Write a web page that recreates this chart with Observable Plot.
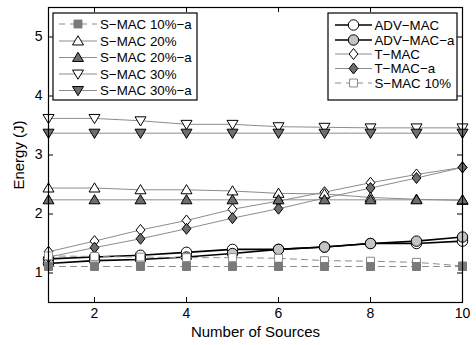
<!DOCTYPE html>
<html><head><meta charset="utf-8">
<script src="https://cdn.jsdelivr.net/npm/d3@7"></script>
<script src="https://cdn.jsdelivr.net/npm/@observablehq/plot@0.6"></script>
<style>
body{margin:0;background:#fff;}
#wrap{position:relative;width:476px;height:345px;font-family:"Liberation Sans",Arial,Helvetica,sans-serif;}
#wrap svg.legend{position:absolute;left:0;top:0;pointer-events:none;}
</style></head><body><div id="wrap"></div>
<script>
// ---- data ----
const sources = [1, 2, 3, 4, 5, 6, 7, 8, 9, 10];
const advMac    = [1.24, 1.27, 1.30, 1.35, 1.40, 1.40, 1.44, 1.50, 1.50, 1.54];
const advMacA   = [1.16, 1.21, 1.23, 1.27, 1.33, 1.40, 1.44, 1.50, 1.54, 1.61];
const tMac      = [1.36, 1.54, 1.73, 1.89, 2.08, 2.22, 2.37, 2.53, 2.67, 2.79];
const tMacA     = [1.27, 1.43, 1.58, 1.75, 1.93, 2.09, 2.27, 2.44, 2.61, 2.79];
const sMac10    = [1.29, 1.28, 1.27, 1.26, 1.26, 1.25, 1.21, 1.20, 1.18, 1.12];
const sMac10A   = [1.11, 1.11, 1.11, 1.11, 1.11, 1.11, 1.11, 1.11, 1.11, 1.11];
const sMac20    = [2.44, 2.44, 2.41, 2.41, 2.39, 2.35, 2.34, 2.28, 2.25, 2.23];
const sMac20A   = [2.24, 2.24, 2.24, 2.24, 2.24, 2.24, 2.24, 2.24, 2.24, 2.24];
const sMac30    = [3.62, 3.62, 3.58, 3.52, 3.52, 3.48, 3.47, 3.46, 3.46, 3.46];
const sMac30A   = [3.37, 3.37, 3.37, 3.37, 3.37, 3.37, 3.37, 3.37, 3.37, 3.37];
const seriesNames = ["ADV\u2212MAC", "ADV\u2212MAC\u2212a", "T\u2212MAC", "T\u2212MAC\u2212a", "S\u2212MAC 10%",
  "S\u2212MAC 10%\u2212a", "S\u2212MAC 20%", "S\u2212MAC 20%\u2212a", "S\u2212MAC 30%", "S\u2212MAC 30%\u2212a"];
const xTicks = [2, 4, 6, 8, 10];
const yTicks = [1, 2, 3, 4, 5];
const xLabel = "Number of Sources";
const yLabel = "Energy (J)";

// ---- symbols ----
const symCircle = {draw(c, size){const r=Math.sqrt(size/Math.PI)*0.95; c.moveTo(r,0); c.arc(0,0,r,0,2*Math.PI); c.closePath();}};
const symSquare = {draw(c, size){const r=Math.sqrt(size/Math.PI)*0.72; c.moveTo(-r,-r); c.lineTo(r,-r); c.lineTo(r,r); c.lineTo(-r,r); c.closePath();}};
const symDiamond = {draw(c, size){const r=Math.sqrt(size/Math.PI); c.moveTo(0,-r); c.lineTo(0.8*r,0); c.lineTo(0,r); c.lineTo(-0.8*r,0); c.closePath();}};
const symTriUp = {draw(c, size){const r=Math.sqrt(size/Math.PI); c.moveTo(0,-0.95*r); c.lineTo(r,0.72*r); c.lineTo(-r,0.72*r); c.closePath();}};
const symTriDown = {draw(c, size){const r=Math.sqrt(size/Math.PI); c.moveTo(0,0.95*r); c.lineTo(r,-0.72*r); c.lineTo(-r,-0.72*r); c.closePath();}};

const values = [advMac, advMacA, tMac, tMacA, sMac10, sMac10A, sMac20, sMac20A, sMac30, sMac30A];
const GRAY_LINE = "#8c8c8c", DARK = "#6e6e6e", LIGHT = "#c4c4c4";
const styles = [
  {line:"#000", lw:1.6, dash:null, sym:symCircle, fill:"#fff", stroke:"#000"},
  {line:"#000", lw:1.6, dash:null, sym:symCircle, fill:LIGHT, stroke:"#000"},
  {line:GRAY_LINE, lw:1, dash:null, sym:symDiamond, fill:"#fff", stroke:"#000"},
  {line:GRAY_LINE, lw:1, dash:null, sym:symDiamond, fill:DARK, stroke:"#000"},
  {line:GRAY_LINE, lw:1, dash:"6,5", sym:symSquare, fill:"#fff", stroke:"#8a8a8a"},
  {line:GRAY_LINE, lw:1, dash:"6,5", sym:symSquare, fill:"#7a7a7a", stroke:"#7a7a7a"},
  {line:GRAY_LINE, lw:1, dash:null, sym:symTriUp, fill:"#fff", stroke:"#000"},
  {line:GRAY_LINE, lw:1, dash:null, sym:symTriUp, fill:DARK, stroke:"#000"},
  {line:GRAY_LINE, lw:1, dash:null, sym:symTriDown, fill:"#fff", stroke:"#000"},
  {line:GRAY_LINE, lw:1, dash:null, sym:symTriDown, fill:DARK, stroke:"#000"}
];
const R = 5.5;

const W = 476, H = 345, mL = 48, mR = 14, mT = 7, mB = 43;
const innerW = W - mL - mR, innerH = H - mT - mB, TL = 5;

const marks = [];
seriesNames.forEach((name, i) => {
  const rows = sources.map((x, j) => ({series: name, x, y: values[i][j]}));
  const s = styles[i];
  marks.push(Plot.line(rows, {x: "x", y: "y", stroke: s.line, strokeWidth: s.lw, strokeDasharray: s.dash || undefined}));
  marks.push(Plot.dot(rows, {x: "x", y: "y", symbol: s.sym, r: R, fill: s.fill, stroke: s.stroke, strokeWidth: 1}));
});

const chart = Plot.plot({
  width: W, height: H,
  marginLeft: mL, marginRight: mR, marginTop: mT, marginBottom: mB,
  x: {domain: [1, 10]},
  y: {domain: [0.5, 5.5]},
  axis: null,
  style: {fontSize: "14px", fontFamily: "'Liberation Sans', Arial, Helvetica, sans-serif", color: "#000", background: "#fff"},
  marks: [
    // inward ticks on all four sides
    Plot.tickX(xTicks, {x: d => d, insetTop: innerH - TL, stroke: "#000"}),
    Plot.tickX(xTicks, {x: d => d, insetBottom: innerH - TL, stroke: "#000"}),
    Plot.tickY(yTicks, {y: d => d, insetRight: innerW - TL, stroke: "#000"}),
    Plot.tickY(yTicks, {y: d => d, insetLeft: innerW - TL, stroke: "#000"}),
    Plot.axisX({ticks: xTicks, tickFormat: d => String(d), tickSize: 0, tickPadding: 6, label: null, fontSize: 14}),
    Plot.axisY({ticks: yTicks, tickFormat: d => String(d), tickSize: 0, tickPadding: 6, label: null, fontSize: 14}),
    Plot.text([xLabel], {frameAnchor: "bottom", textAnchor: "middle", lineAnchor: "middle", dy: 30, fontSize: 15}),
    Plot.text([yLabel], {frameAnchor: "left", rotate: -90, textAnchor: "middle", lineAnchor: "middle", dx: -29, fontSize: 15}),
    ...marks,
    Plot.frame({stroke: "#000", strokeWidth: 1.2})
  ]
});
const wrap = document.getElementById("wrap");
wrap.appendChild(chart);

// ---- legends (overlay) ----
const leg = d3.select(wrap).append("svg").attr("class", "legend").attr("width", W).attr("height", H)
  .style("font-family", "'Liberation Sans', Arial, Helvetica, sans-serif").style("font-size", "13.3px");
function drawLegend(box, idxs, rowY, lineX1, lineX2, textX) {
  leg.append("rect").attr("x", box.x).attr("y", box.y).attr("width", box.w).attr("height", box.h)
    .attr("fill", "#fff").attr("stroke", "#000").attr("stroke-width", 1.2);
  idxs.forEach((i, k) => {
    const s = styles[i], y = rowY[k];
    leg.append("line").attr("x1", lineX1).attr("x2", lineX2).attr("y1", y).attr("y2", y)
      .attr("stroke", s.line).attr("stroke-width", s.lw).attr("stroke-dasharray", s.dash || null);
    leg.append("path").attr("transform", `translate(${(lineX1 + lineX2) / 2},${y})`)
      .attr("d", d3.symbol(s.sym, Math.PI * R * R)()).attr("fill", s.fill).attr("stroke", s.stroke);
    leg.append("text").attr("x", textX).attr("y", y).attr("dy", "0.35em").text(seriesNames[i]);
  });
}
drawLegend({x: 53, y: 13, w: 144, h: 87}, [5, 6, 7, 8, 9], [24, 41, 57.5, 74, 90.5], 59, 97, 100);
drawLegend({x: 328, y: 13, w: 129, h: 87}, [0, 1, 2, 3, 4], [25, 40, 54, 68.5, 83], 335, 372, 374.5);
</script></body></html>
